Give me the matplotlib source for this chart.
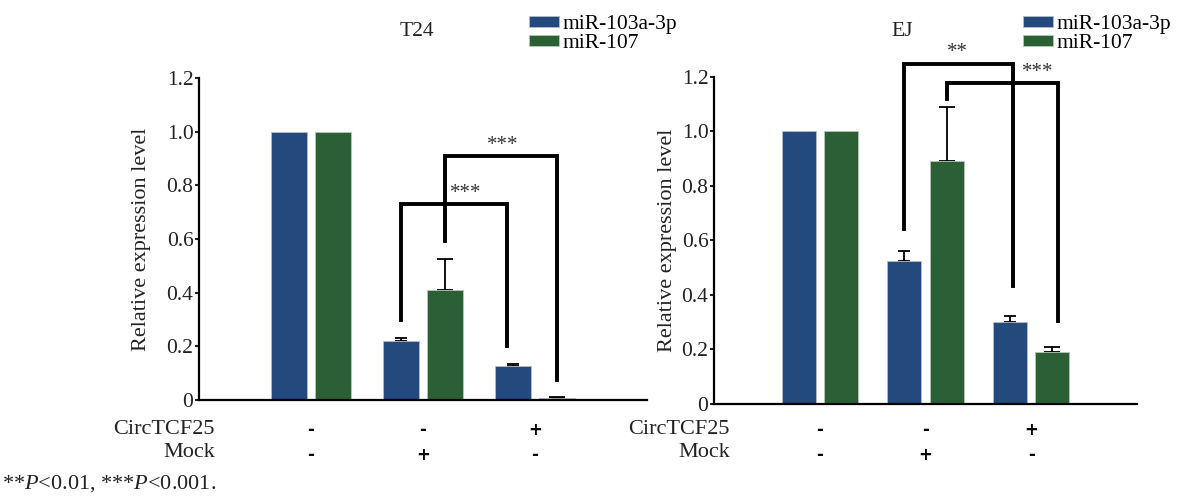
import numpy as np
import matplotlib
matplotlib.use("Agg")
import matplotlib.pyplot as plt
import matplotlib.transforms as mtransforms

plt.rcParams['font.family'] = 'Liberation Serif'
plt.rcParams['mathtext.fontset'] = 'custom'
plt.rcParams['mathtext.rm'] = 'Liberation Serif'
plt.rcParams['mathtext.it'] = 'Liberation Serif:italic'

# data
groups = [0, 1, 2]
series = ['miR-103a-3p', 'miR-107']
circ_signs = ['-', '-', '+']
mock_signs = ['-', '+', '-']

t24_mir103 = [1.0, 0.219, 0.126]
t24_mir103_err = [0.0, 0.012, 0.009]
t24_mir107 = [1.0, 0.411, 0.006]
t24_mir107_err = [0.0, 0.113, 0.005]

ej_mir103 = [1.0, 0.525, 0.301]
ej_mir103_err = [0.0, 0.037, 0.022]
ej_mir107 = [1.0, 0.892, 0.190]
ej_mir107_err = [0.0, 0.199, 0.019]

# brackets: (x_left, x_right, top, left_end, right_end, label, label_x, label_y)
t24_brackets = [
    (0.8, 1.75, 0.731, 0.30, 0.20, '***', 1.38, 0.77),
    (1.2, 2.2, 0.911, 0.593, 0.075, '***', 1.71, 0.95),
]
ej_brackets = [
    (0.8, 1.83, 1.247, 0.641, 0.432, '**', 1.30, 1.29),
    (1.2, 2.25, 1.177, 1.118, 0.303, '***', 2.06, 1.215),
]

blue = '#23497d'
green = '#2b6037'
W, H = 1201, 498

fig = plt.figure(figsize=(W / 100, H / 100), dpi=100)


def px_axes(x0, x1, ybot, ytop):
    return fig.add_axes([x0 / W, (H - ybot) / H, (x1 - x0) / W, (ybot - ytop) / H])


def draw_panel(ax, title, v1, e1, v2, e2, brackets, title_x, leg_x, label_x, lpad):
    x = np.array(groups)
    ax.bar(x - 0.2, v1, 0.32, color=blue, edgecolor='#b8bccb', linewidth=0.6,
           label=series[0], zorder=2)
    ax.bar(x + 0.2, v2, 0.32, color=green, edgecolor='#b8c8b8', linewidth=0.6,
           label=series[1], zorder=2)
    # upper error bars only where there is a spread
    for off, v, e, cs in [(-0.2, v1, e1, 4.5), (0.2, v2, e2, 6)]:
        idx = [i for i in range(len(v)) if e[i] > 0]
        ax.errorbar(x[idx] + off, np.array(v)[idx],
                    yerr=[np.zeros(len(idx)), np.array(e)[idx]],
                    fmt='none', ecolor='black', elinewidth=1.3, capsize=cs, capthick=1.3, zorder=1)
    ax.set_xlim(-1, 3)
    ax.set_ylim(0, 1.2)
    ax.set_yticks([0, 0.2, 0.4, 0.6, 0.8, 1.0, 1.2])
    ax.set_yticklabels(['0', '0.2', '0.4', '0.6', '0.8', '1.0', '1.2'])
    ax.set_xticks([])
    for s in ['top', 'right']:
        ax.spines[s].set_visible(False)
    for s in ['left', 'bottom']:
        ax.spines[s].set_linewidth(1.6)
    ax.tick_params(axis='y', labelsize=15.5, length=3, width=1.5, pad=1, colors='#222222')
    ax.set_ylabel('Relative expression level', fontsize=16, labelpad=lpad, color='#222222')

    for xl, xr, top, yl, yr, lab, lx, ly in brackets:
        ax.plot([xl, xl, xr, xr], [yl, top, top, yr], color='black', lw=2.8,
                solid_joinstyle='miter', clip_on=False, zorder=3)
        ax.text(lx, ly, lab, ha='center', va='center', fontsize=15, color='#333333')

    fig.text(title_x / W, 1 - 32 / H, title, ha='center', va='center', fontsize=15.5, color='#222222')
    ax.legend(loc='upper left', bbox_to_anchor=(leg_x / W, 1 - 15 / H),
              bbox_transform=fig.transFigure, frameon=False, fontsize=15.5,
              handlelength=1.4, handleheight=0.4, handletextpad=0.15,
              labelspacing=0.0, borderpad=0, borderaxespad=0)

    tr = mtransforms.blended_transform_factory(ax.transData, fig.transFigure)
    fig.text(label_x / W, 1 - 430 / H, 'CircTCF25', ha='right', va='center', fontsize=16, color='#222222')
    fig.text(label_x / W, 1 - 452 / H, 'Mock', ha='right', va='center', fontsize=16, color='#222222')
    for g, c, m in zip(groups, circ_signs, mock_signs):
        ax.text(g, 1 - 430 / H, c, transform=tr, ha='center', va='center',
                fontsize=12, fontweight='bold', family='DejaVu Sans')
        ax.text(g, 1 - 455 / H, m, transform=tr, ha='center', va='center',
                fontsize=12, fontweight='bold', family='DejaVu Sans')


ax1 = px_axes(199, 647, 400, 78)
draw_panel(ax1, 'T24', t24_mir103, t24_mir103_err, t24_mir107, t24_mir107_err,
           t24_brackets, 417, 529, 215, 11)

ax2 = px_axes(714, 1137, 403.5, 77)
draw_panel(ax2, 'EJ', ej_mir103, ej_mir103_err, ej_mir107, ej_mir107_err,
           ej_brackets, 902, 1023, 730, 3)

fig.text(2 / W, 1 - 484 / H, r'**$P$<0.01, ***$P$<0.001.', ha='left', va='center',
         fontsize=16, color='#222222')

fig.savefig('out.png', dpi=100)
